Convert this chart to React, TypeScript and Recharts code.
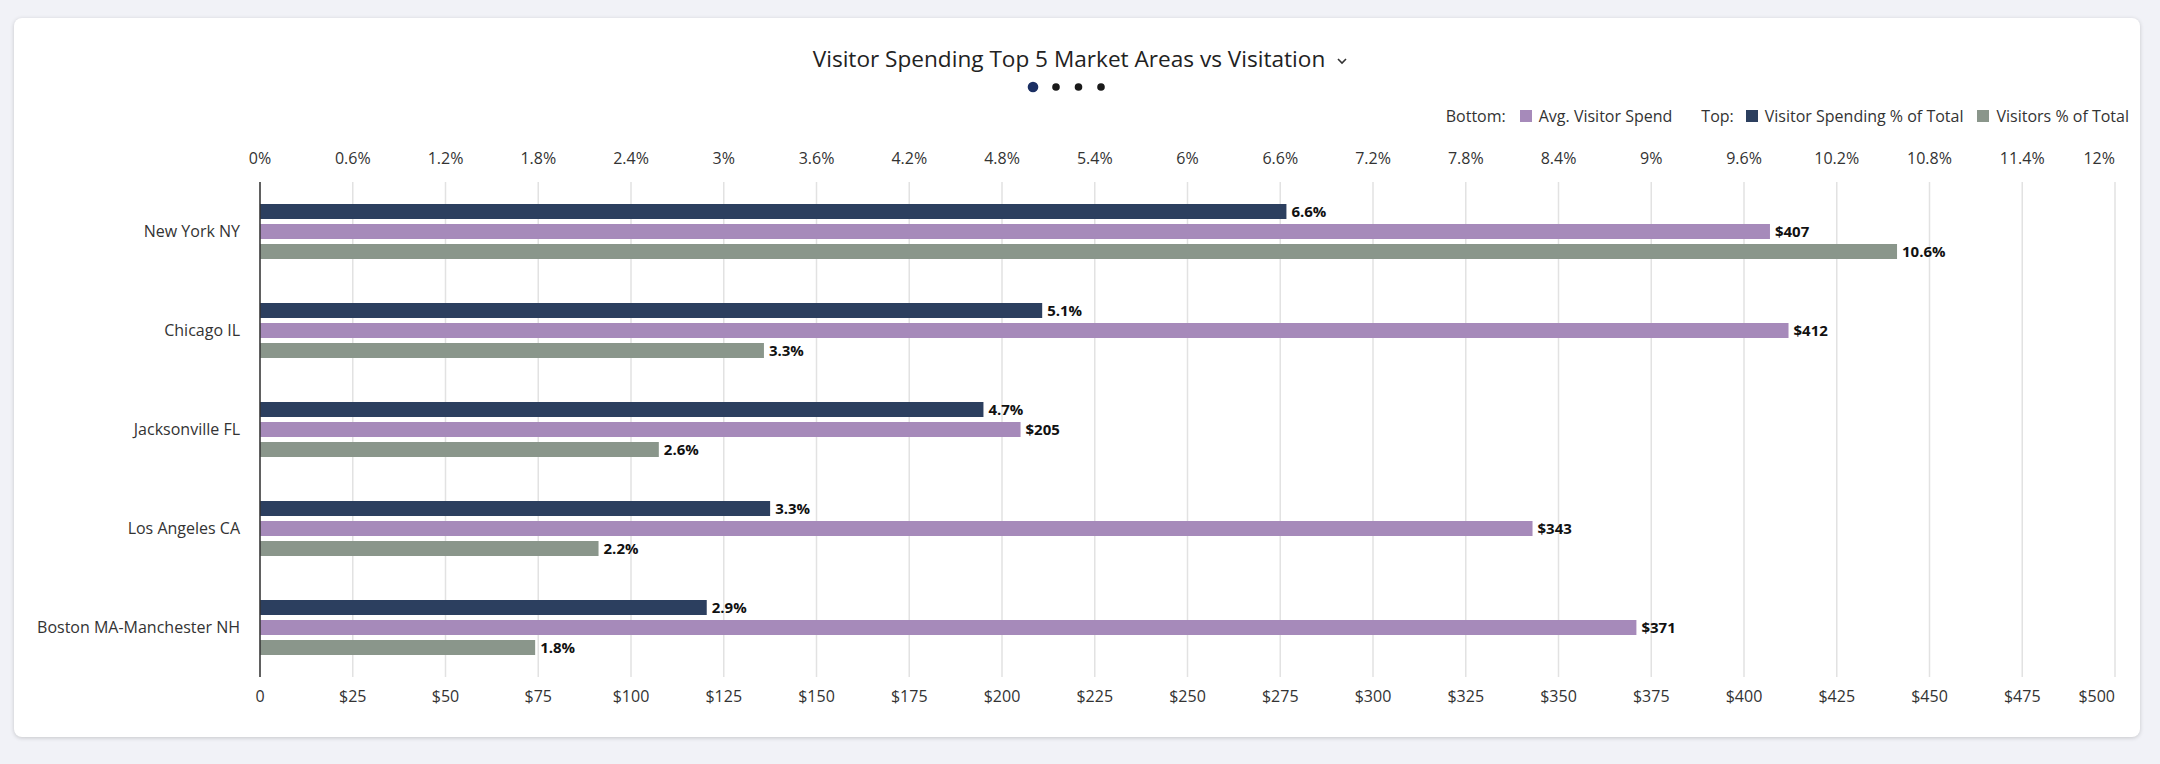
import React from "react";
import {
  BarChart,
  Bar,
  XAxis,
  YAxis,
  CartesianGrid,
  LabelList,
} from "recharts";

const markets = [
  "New York NY",
  "Chicago IL",
  "Jacksonville FL",
  "Los Angeles CA",
  "Boston MA-Manchester NH",
];
const spendPct = [6.64, 5.06, 4.68, 3.3, 2.89];
const avgSpend = [407, 412, 205, 343, 371];
const visitorsPct = [10.59, 3.26, 2.58, 2.19, 1.78];

const pctTicks = [0, 0.6, 1.2, 1.8, 2.4, 3, 3.6, 4.2, 4.8, 5.4, 6, 6.6, 7.2, 7.8, 8.4, 9, 9.6, 10.2, 10.8, 11.4, 12];
const usdTicks = [0, 25, 50, 75, 100, 125, 150, 175, 200, 225, 250, 275, 300, 325, 350, 375, 400, 425, 450, 475, 500];

const NAVY = "#2c3f5f";
const PURPLE = "#a68aba";
const GRAY = "#8a968b";
const FONT = "'Open Sans', sans-serif";

const data = markets.map((name, i) => ({
  name,
  spendPct: spendPct[i],
  avgSpend: avgSpend[i],
  visitorsPct: visitorsPct[i],
}));

const fmtPct = (v: number) => `${Number(v.toFixed(1))}%`;
const fmtUsd = (v: number) => (v === 0 ? "0" : `$${v}`);

function TopTick(props: any) {
  const { x, y, payload, index } = props;
  const last = index === pctTicks.length - 1;
  return (
    <text x={x} y={y - 18} textAnchor={last ? "end" : "middle"} fill="#333" fontSize={16} fontFamily={FONT}>
      {fmtPct(payload.value)}
    </text>
  );
}

function BottomTick(props: any) {
  const { x, y, payload, index } = props;
  const last = index === usdTicks.length - 1;
  return (
    <text x={x} y={y + 25} textAnchor={last ? "end" : "middle"} fill="#333" fontSize={16} fontFamily={FONT}>
      {fmtUsd(payload.value)}
    </text>
  );
}

const labelStyle = { fill: "#111", fontSize: 15, fontWeight: 700, fontFamily: FONT };

function LegendItem({ color, text, gap }: { color: string; text: string; gap: number }) {
  return (
    <span style={{ display: "inline-flex", alignItems: "center", marginLeft: gap }}>
      <span style={{ width: 12, height: 12, background: color, display: "inline-block", marginRight: 7 }} />
      {text}
    </span>
  );
}

export default function App() {
  return (
    <div
      style={{
        position: "absolute",
        left: 0,
        top: 0,
        width: 2160,
        height: 764,
        background: "#f1f2f7",
        fontFamily: FONT,
        overflow: "hidden",
      }}
    >
      <div
        style={{
          position: "absolute",
          left: 14,
          top: 18,
          width: 2126,
          height: 719,
          background: "#fff",
          borderRadius: 8,
          boxShadow: "0 1px 4px rgba(0,0,0,0.18)",
        }}
      />
      <div
        style={{
          position: "absolute",
          left: 0,
          width: 2160,
          top: 43,
          textAlign: "center",
          fontSize: 22.6,
          color: "#222",
          lineHeight: "32px",
        }}
      >
        Visitor Spending Top 5 Market Areas vs Visitation
        <svg width={10} height={8} style={{ marginLeft: 12, verticalAlign: "middle" }}>
          <polyline points="1,2 5,6 9,2" fill="none" stroke="#333" strokeWidth={1.6} />
        </svg>
      </div>
      <svg width={2160} height={764} style={{ position: "absolute", left: 0, top: 0, pointerEvents: "none" }}>
        <circle cx={1033} cy={87} r={5.3} fill="#1b2f63" />
        <circle cx={1056} cy={87} r={3.8} fill="#1a1a1a" />
        <circle cx={1078.5} cy={87} r={3.8} fill="#1a1a1a" />
        <circle cx={1101} cy={87} r={3.8} fill="#1a1a1a" />
      </svg>
      <div
        style={{
          position: "absolute",
          right: 31,
          top: 105,
          fontSize: 16,
          color: "#333",
          lineHeight: "22px",
          whiteSpace: "nowrap",
          display: "flex",
          alignItems: "center",
        }}
      >
        <span>Bottom:</span>
        <LegendItem color={PURPLE} text="Avg. Visitor Spend" gap={14} />
        <span style={{ marginLeft: 29 }}>Top:</span>
        <LegendItem color={NAVY} text="Visitor Spending % of Total" gap={12} />
        <LegendItem color={GRAY} text="Visitors % of Total" gap={14} />
      </div>
      <div style={{ position: "absolute", left: 0, top: 0 }}>
        <BarChart
          width={2160}
          height={764}
          data={data}
          layout="vertical"
          margin={{ top: 140, right: 45, bottom: 57, left: 20 }}
          barGap={5}
          barSize={15}
        >
          <CartesianGrid horizontal={false} stroke="#e2e2e2" xAxisId="usd" strokeWidth={1.5} />
          <XAxis
            xAxisId="pct"
            type="number"
            orientation="top"
            domain={[0, 12]}
            ticks={pctTicks}
            height={42}
            axisLine={false}
            tickLine={false}
            tickSize={0}
            tickMargin={0}
            interval={0}
            tick={<TopTick />}
          />
          <XAxis
            xAxisId="usd"
            type="number"
            orientation="bottom"
            domain={[0, 500]}
            ticks={usdTicks}
            height={30}
            axisLine={false}
            tickLine={false}
            tickSize={0}
            tickMargin={0}
            interval={0}
            tick={<BottomTick />}
          />
          <YAxis
            type="category"
            dataKey="name"
            width={240}
            axisLine={{ stroke: "#333", strokeWidth: 1.5 }}
            tickLine={false}
            tickSize={0}
            tickMargin={20}
            tick={{ fill: "#333", fontSize: 16, fontFamily: FONT }}
          />
          <Bar xAxisId="pct" dataKey="spendPct" fill={NAVY} isAnimationActive={false}>
            <LabelList dataKey="spendPct" position="right" offset={5} formatter={(v: any) => fmtPct(v)} style={labelStyle} />
          </Bar>
          <Bar xAxisId="usd" dataKey="avgSpend" fill={PURPLE} isAnimationActive={false}>
            <LabelList dataKey="avgSpend" position="right" offset={5} formatter={(v: any) => `$${v}`} style={labelStyle} />
          </Bar>
          <Bar xAxisId="pct" dataKey="visitorsPct" fill={GRAY} isAnimationActive={false}>
            <LabelList dataKey="visitorsPct" position="right" offset={5} formatter={(v: any) => fmtPct(v)} style={labelStyle} />
          </Bar>
        </BarChart>
      </div>
    </div>
  );
}
